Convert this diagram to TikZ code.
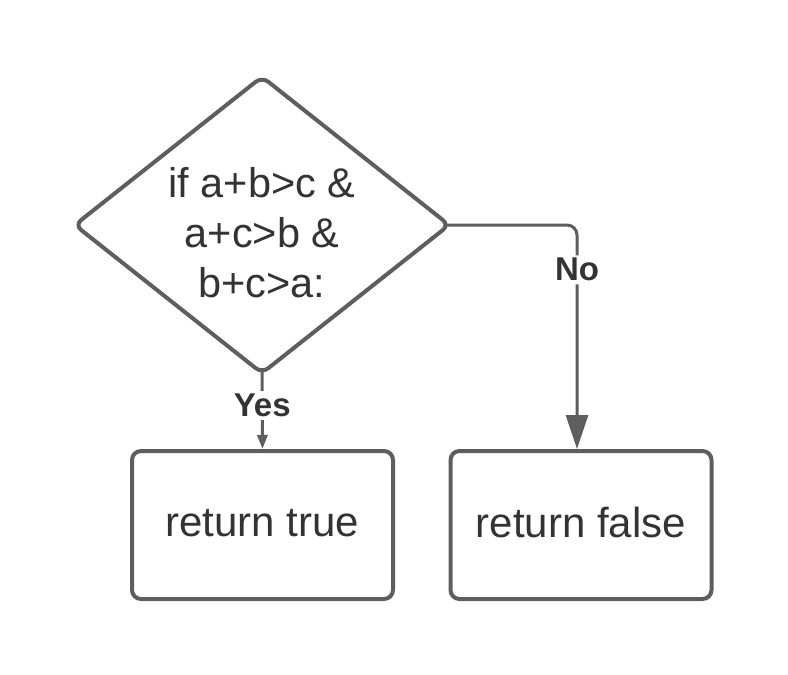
\documentclass[tikz,border=0pt]{standalone}
\usepackage{fontspec}
\setmainfont{Liberation Sans}
\usetikzlibrary{shapes.geometric,arrows.meta}
\definecolor{ln}{HTML}{5E5E5E}
\definecolor{tx}{HTML}{333333}
\begin{document}
\begin{tikzpicture}[x=1pt,y=-1pt,
  box/.style={draw=ln,line width=4pt,rounded corners=9pt,minimum width=261pt,minimum height=148pt,text=tx,font=\fontsize{42}{50}\selectfont,inner sep=0pt},
  dec/.style={diamond,draw=ln,line width=4pt,rounded corners=8pt,minimum width=376pt,minimum height=298pt,inner sep=0pt},
  dtext/.style={text=tx,font=\fontsize{41.5}{50}\selectfont,align=center,inner sep=0pt},
  conn/.style={draw=ln,line width=3pt},
  lbl/.style={fill=white,text=tx,font=\bfseries\fontsize{33}{36}\selectfont,inner sep=3pt}]
\useasboundingbox (0,0) rectangle (788,675);
\fill[white] (0,0) rectangle (788,675);
\node[dec] (d) at (262,225) {};
\node[dtext] (dt) at ([yshift=-8pt]d.center) {if a+b>c \&\\a+c>b \&\\b+c>a:};
\node[box] (t) at (262.5,525) {\raisebox{5pt}{return true}};
\node[box] (f) at (581,525) {\raisebox{5pt}{return false}};
\coordinate (fn) at ([xshift=-4pt]f.north);
\coordinate (ds) at ([yshift=6pt]d.south);
\coordinate (de) at ([xshift=-7pt]d.east);
\draw[conn,-{Triangle[width=10pt,length=14pt]}] (ds) -- node[lbl,pos=0.45]{Yes} (t.north);
\draw[conn,rounded corners=10pt,-{Triangle[width=22pt,length=34pt]}] (de) -| node[lbl,pos=0.6]{No} (fn);
\end{tikzpicture}
\end{document}
